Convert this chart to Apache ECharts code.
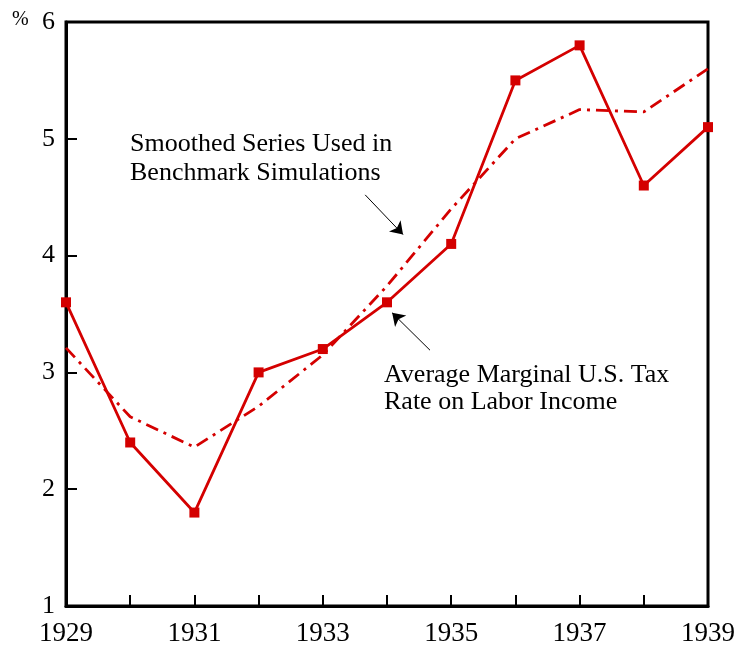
<!DOCTYPE html>
<html>
<head>
<meta charset="utf-8">
<script src="https://cdn.jsdelivr.net/npm/echarts@6/dist/echarts.min.js"></script>
<style>
  html, body { margin: 0; padding: 0; background: #fff; }
  #chart { width: 740px; height: 651px; }
</style>
</head>
<body>
<div id="chart"></div>
<script>
var years = [1929, 1930, 1931, 1932, 1933, 1934, 1935, 1936, 1937, 1938, 1939];
var actualRate = [3.6, 2.4, 1.8, 3.0, 3.2, 3.6, 4.1, 5.5, 5.8, 4.6, 5.1];
var smoothedRate = [3.21, 2.62, 2.36, 2.71, 3.15, 3.74, 4.4, 5.0, 5.25, 5.23, 5.6];
// arrow start/end points in data units [year, %]
var arrowSmoothed = [[1933.66, 4.52], [1934.25, 4.18]];
var arrowActual = [[1934.67, 3.19], [1934.08, 3.51]];

var red = '#d40000';
var serif = '"Liberation Serif", "Times New Roman", serif';

function pairs(xs, ys) {
    return xs.map(function (x, i) { return [x, ys[i]]; });
}

var myChart = echarts.init(document.getElementById('chart'));
myChart.setOption({
    animation: false,
    textStyle: { fontFamily: serif, color: '#000' },
    grid: {
        left: 66, right: 32, top: 22, bottom: 45,
        show: true, borderColor: '#000', borderWidth: 3
    },
    xAxis: {
        type: 'value',
        min: 1929, max: 1939, interval: 1,
        splitLine: { show: false },
        axisLine: { lineStyle: { color: '#000', width: 3 } },
        axisTick: { inside: true, length: 11, lineStyle: { color: '#000', width: 2 } },
        axisLabel: {
            color: '#000', fontSize: 27, fontFamily: serif, margin: 14,
            formatter: function (v) { return (v - 1929) % 2 === 0 ? String(v) : ''; }
        }
    },
    yAxis: {
        type: 'value',
        min: 1, max: 6, interval: 1,
        splitLine: { show: false },
        axisLine: { lineStyle: { color: '#000', width: 3 } },
        axisTick: { inside: true, length: 11, lineStyle: { color: '#000', width: 2 } },
        axisLabel: { color: '#000', fontSize: 26, fontFamily: serif, margin: 11 }
    },
    graphic: [
        { type: 'text', left: 12, top: 10, style: { text: '%', font: '20px ' + serif, fill: '#000' } },
        {
            type: 'text', left: 130, top: 130,
            style: { text: 'Smoothed Series Used in\nBenchmark Simulations', font: '26px ' + serif, fill: '#000', lineHeight: 29 }
        },
        {
            type: 'text', left: 384, top: 362,
            style: { text: 'Average Marginal U.S. Tax\nRate on Labor Income', font: '26px ' + serif, fill: '#000', lineHeight: 27 }
        }
    ],
    series: [
        {
            type: 'line',
            data: pairs(years, smoothedRate),
            symbol: 'none',
            lineStyle: { color: red, width: 2.8, type: [13, 6, 3, 6] },
            markLine: {
                silent: true,
                symbol: ['none', 'arrow'],
                symbolSize: 12,
                label: { show: false },
                lineStyle: { color: '#000', width: 1, type: 'solid' },
                data: [
                    [{ coord: arrowSmoothed[0] }, { coord: arrowSmoothed[1] }],
                    [{ coord: arrowActual[0] }, { coord: arrowActual[1] }]
                ]
            }
        },
        {
            type: 'line',
            data: pairs(years, actualRate),
            symbol: 'rect',
            symbolSize: 10,
            itemStyle: { color: red },
            lineStyle: { color: red, width: 2.8 }
        }
    ]
});
</script>
</body>
</html>
